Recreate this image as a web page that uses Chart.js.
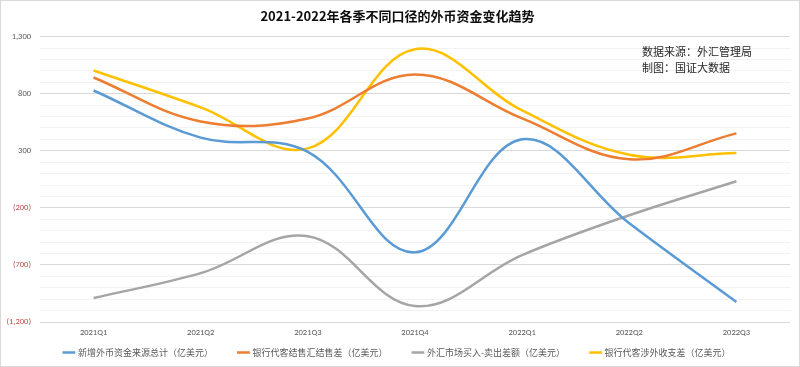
<!DOCTYPE html>
<html>
<head>
<meta charset="utf-8">
<script src="https://cdn.jsdelivr.net/npm/chart.js@4"></script>
<style>
  html, body { margin: 0; padding: 0; background: #fff; }
  #wrap { position: relative; width: 800px; height: 367px; box-sizing: border-box; border: 1px solid #d9d9d9; background: #fff; }
  #note { position: absolute; left: 641px; top: 42px; font-family: "Noto Sans CJK SC", sans-serif; font-size: 11px; line-height: 16px; color: #262626; }
</style>
</head>
<body>
<div id="wrap">
  <canvas id="c"></canvas>
  <div id="note">数据来源：外汇管理局<br>制图：国证大数据</div>
</div>
<script>
const categories = ['2021Q1', '2021Q2', '2021Q3', '2021Q4', '2022Q1', '2022Q2', '2022Q3'];
const seriesNames = ['新增外币资金来源总计（亿美元）', '银行代客结售汇结售差（亿美元）', '外汇市场买入-卖出差额（亿美元）', '银行代客涉外收支差（亿美元）'];
const newFundsTotal = [828, 415, 290, -590, 400, -335, -1025];
const bankFxSettlement = [942, 557, 583, 968, 583, 225, 452];
const fxMarketNet = [-990, -772, -448, -1060, -614, -265, 33];
const bankCrossBorder = [1003, 680, 321, 1190, 653, 265, 280];
const seriesColors = ['#5B9BD5', '#ED7D31', '#A5A5A5', '#FFC000'];
const yMin = -1200, yMax = 1300, yMinorStep = 100, yMajorStep = 500;
const titleText = '2021-2022年各季不同口径的外币资金变化趋势';

const CJK = '"Noto Sans CJK SC", "Noto Sans", sans-serif';
const allSeries = [newFundsTotal, bankFxSettlement, fxMarketNet, bankCrossBorder];
const LEGEND_PAD = 26, LEGEND_FONT = 9, LEGEND_H = 27, LEGEND_CENTER_FROM_BOTTOM = 13.5;

function isMajor(v) { return ((v - yMin) % yMajorStep + yMajorStep) % yMajorStep === 0; }
function fmt(v) {
  const s = Math.abs(v).toLocaleString('en-US');
  return v < 0 ? '(' + s + ')' : s;
}

// Keep a compact legend box height while keeping wide horizontal spacing between items
const compactLegend = {
  id: 'compactLegend',
  afterInit(chart) {
    const lg = chart.legend;
    if (!lg) return;
    const fit0 = lg.fit.bind(lg);
    lg.fit = function () { fit0(); this.height = LEGEND_H; };
    const draw0 = lg.draw.bind(lg);
    lg.draw = function () {
      const top0 = this.top;
      const center = this.bottom - LEGEND_CENTER_FROM_BOTTOM;
      this.top = center - (LEGEND_PAD + LEGEND_FONT / 2);
      draw0();
      this.top = top0;
    };
  }
};

new Chart(document.getElementById('c'), {
  type: 'line',
  plugins: [compactLegend],
  data: {
    labels: categories,
    datasets: allSeries.map((d, i) => ({
      label: seriesNames[i],
      data: d,
      borderColor: seriesColors[i],
      backgroundColor: seriesColors[i],
      borderWidth: 2.5,
      pointRadius: 0,
      tension: 0.38,
      fill: false
    }))
  },
  options: {
    responsive: true,
    maintainAspectRatio: false,
    animation: false,
    layout: { padding: { left: 4, right: 9, top: 7, bottom: 0 } },
    plugins: {
      title: {
        display: true,
        text: titleText,
        color: '#0d0d0d',
        font: { family: CJK, size: 13, weight: 'bold' },
        padding: { top: 0, bottom: 13 }
      },
      legend: {
        position: 'bottom',
        labels: {
          usePointStyle: true,
          pointStyle: 'line',
          boxWidth: 20,
          color: '#595959',
          font: { family: CJK, size: LEGEND_FONT },
          padding: LEGEND_PAD
        }
      },
      tooltip: { enabled: false }
    },
    scales: {
      x: {
        offset: true,
        grid: { display: false, drawTicks: false },
        border: { display: false },
        ticks: { color: '#595959', font: { family: 'Calibri, Carlito, "Liberation Sans", sans-serif', size: 8.5 }, padding: 6 },
        afterFit: (s) => { s.height = 17; }
      },
      y: {
        min: yMin,
        max: yMax,
        border: { display: false },
        grid: {
          drawTicks: false,
          color: (ctx) => isMajor(ctx.tick.value) ? '#d9d9d9' : '#f2f2f2',
          lineWidth: 1
        },
        ticks: {
          stepSize: yMinorStep,
          autoSkip: false,
          padding: 9,
          font: { family: 'Calibri, Carlito, "Liberation Sans", sans-serif', size: 8.5 },
          color: (ctx) => ctx.tick.value < 0 ? '#c0504d' : '#595959',
          callback: (v) => isMajor(v) ? fmt(v) : ''
        },
        afterFit: (s) => { s.width = 35; }
      }
    }
  }
});
</script>
</body>
</html>
